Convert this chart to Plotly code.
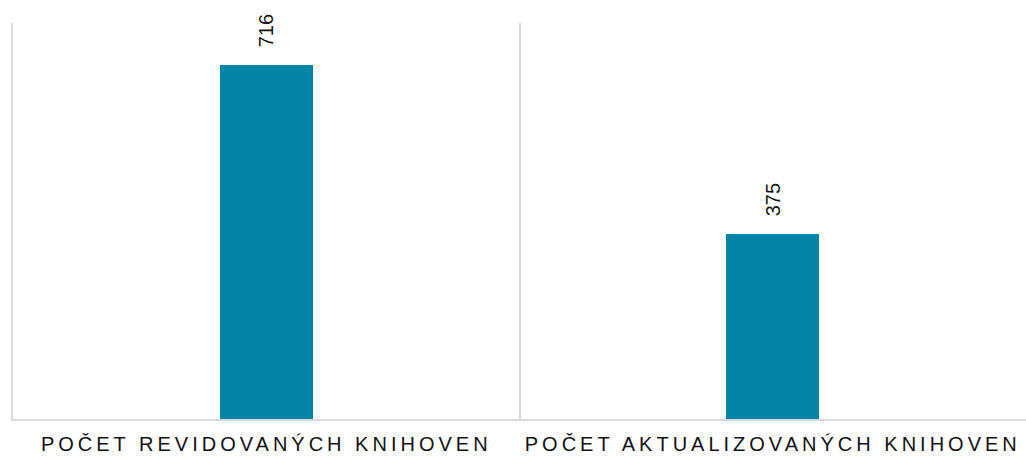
import plotly.graph_objects as go

categories = ["POČET REVIDOVANÝCH KNIHOVEN", "POČET AKTUALIZOVANÝCH KNIHOVEN"]
values = [716, 375]
value_labels = ["716", "375"]

BAR_COLOR = "#0284a8"
GRID = "#d9d9d9"
FONT = "Arial, Liberation Sans, sans-serif"

fig = go.Figure()
fig.add_trace(go.Bar(
    x=categories, y=values, marker_color=BAR_COLOR, width=0.184,
    marker_line_width=0, hoverinfo="skip",
))
for c, v, t in zip(categories, values, value_labels):
    fig.add_annotation(x=c, y=v, text=t, showarrow=False, textangle=-90,
                       xanchor="center", yanchor="middle", yshift=34,
                       font=dict(family=FONT, size=20, color="#111"))

fig.update_layout(
    width=1026, height=458,
    margin=dict(l=13, r=0, t=23, b=39),
    paper_bgcolor="white", plot_bgcolor="white",
    showlegend=False,
    font=dict(family=FONT),
    bargap=0,
)
fig.update_xaxes(
    tickson="boundaries", showgrid=True, gridcolor=GRID, gridwidth=2,
    showline=True, linecolor=GRID, linewidth=2, ticks="",
    tickfont=dict(family=FONT, size=20, color="#111"),
    ticklabelstandoff=6,
    range=[-0.5, 1.5],
)
fig.update_yaxes(showticklabels=False, showgrid=False, zeroline=False,
                 showline=True, linecolor=GRID, linewidth=2, ticks="",
                 range=[0, 801])

post = """
var s=document.createElement('style');
s.innerHTML='body{margin:0 !important;} .xtick text{letter-spacing:4px;}';
document.head.appendChild(s);
"""
fig.write_html("out.html", post_script=post, config={"displayModeBar": False})
